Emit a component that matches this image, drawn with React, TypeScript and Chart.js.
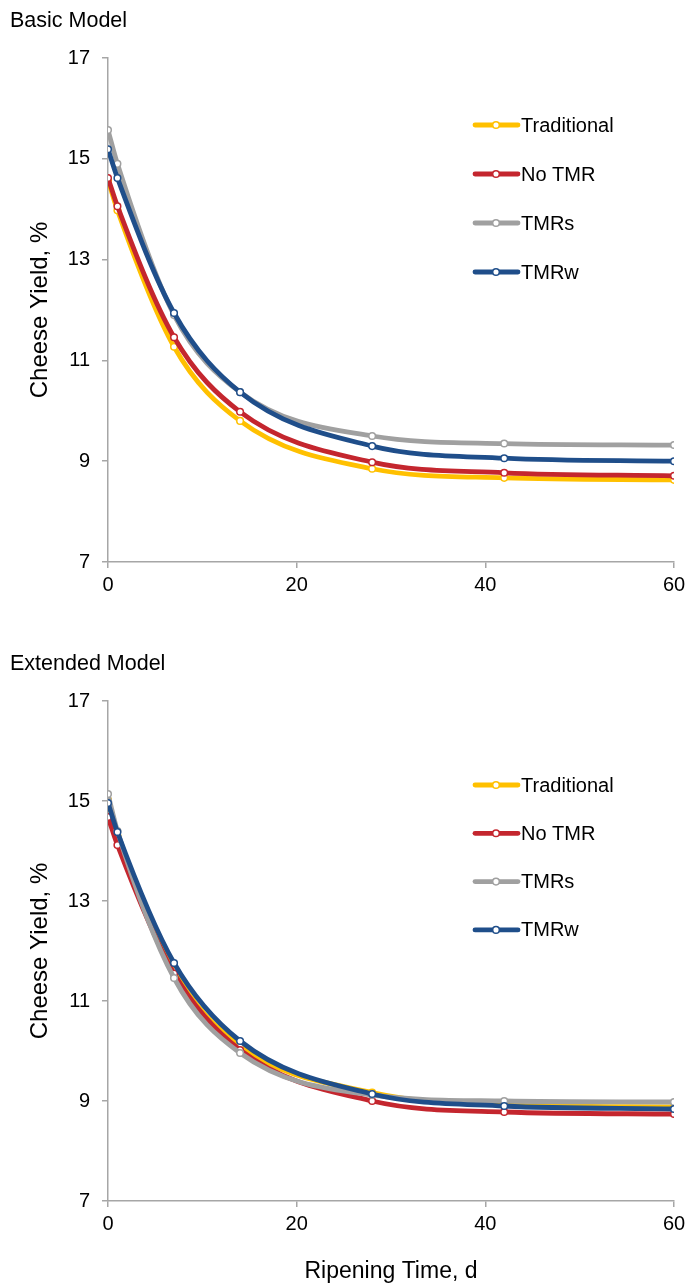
import React, { useEffect, useRef } from "react";
import { Chart, registerables } from "chart.js";

Chart.register(...registerables);

const days = [0, 1, 7, 14, 28, 42, 60];
const seriesNames = ["Traditional", "No TMR", "TMRs", "TMRw"];
const seriesColors = ["#FFC000", "#C4262E", "#A0A0A0", "#1F4E8A"];

const basicTraditional = [14.58, 13.98, 11.27, 9.8, 8.85, 8.67, 8.63];
const basicNoTMR = [14.62, 14.06, 11.46, 9.98, 8.98, 8.77, 8.71];
const basicTMRs = [15.57, 14.9, 11.9, 10.37, 9.5, 9.35, 9.32];
const basicTMRw = [15.19, 14.62, 11.94, 10.37, 9.3, 9.06, 9.0];

const extTraditional = [15.02, 14.3, 11.6, 10.1, 9.17, 8.92, 8.88];
const extNoTMR = [14.68, 14.12, 11.55, 10.02, 9.0, 8.78, 8.74];
const extTMRs = [15.14, 14.4, 11.46, 9.96, 9.12, 9.0, 8.98];
const extTMRw = [14.96, 14.38, 11.76, 10.2, 9.14, 8.9, 8.84];

const yTicks = [7, 9, 11, 13, 15, 17];
const xTicks = [0, 20, 40, 60];

const FONT = "'Liberation Sans', Arial, sans-serif";
const AXIS_GRAY = "#A6A6A6";

type PanelProps = {
  series: number[][];
  height: number;
  xAxisHeight: number;
  topPad: number;
  showXTitle: boolean;
  legendY: number;
  legendStep: number;
};

function Panel({ series, height, xAxisHeight, topPad, showXTitle, legendY, legendStep }: PanelProps) {
  const ref = useRef<HTMLCanvasElement | null>(null);
  useEffect(() => {
    if (!ref.current) return;
    const legendPlugin = {
      id: "inlineLegend",
      afterDraw(chart: any) {
        const ctx = chart.ctx;
        ctx.save();
        seriesNames.forEach((name, i) => {
          const y = legendY + i * legendStep;
          const x0 = 475;
          ctx.strokeStyle = seriesColors[i];
          ctx.lineWidth = 4.8;
          ctx.lineCap = "round";
          ctx.beginPath();
          ctx.moveTo(x0, y);
          ctx.lineTo(x0 + 43, y);
          ctx.stroke();
          ctx.beginPath();
          ctx.arc(x0 + 21, y, 3.3, 0, Math.PI * 2);
          ctx.fillStyle = "#fff";
          ctx.fill();
          ctx.lineWidth = 1.5;
          ctx.stroke();
          ctx.fillStyle = "#000";
          ctx.font = `20px ${FONT}`;
          ctx.textBaseline = "middle";
          ctx.textAlign = "left";
          ctx.fillText(name, x0 + 46, y + 1);
        });
        ctx.restore();
      },
    };
    const orders = [3, 2, 1, 0];
    const chart = new Chart(ref.current, {
      type: "line",
      data: {
        datasets: series.map((vals, i) => ({
          label: seriesNames[i],
          data: days.map((d, j) => ({ x: d, y: vals[j] })),
          borderColor: seriesColors[i],
          backgroundColor: "#fff",
          borderWidth: 4.8,
          pointRadius: 3.3,
          pointBorderWidth: 1.5,
          pointBackgroundColor: "#fff",
          pointBorderColor: seriesColors[i],
          cubicInterpolationMode: "monotone" as const,
          order: orders[i],
          fill: false,
        })),
      },
      options: {
        animation: false,
        responsive: false,
        maintainAspectRatio: false,
        layout: { padding: { left: 0, right: 0, top: topPad, bottom: 0 } },
        plugins: { legend: { display: false }, tooltip: { enabled: false }, title: { display: false } },
        scales: {
          x: {
            type: "linear",
            min: 0,
            max: 60,
            afterBuildTicks: (scale: any) => {
              scale.ticks = xTicks.map((v) => ({ value: v }));
            },
            afterFit: (scale: any) => {
              scale.height = xAxisHeight;
              scale.paddingRight = 11;
            },
            grid: { display: true, drawOnChartArea: false, drawTicks: true, tickLength: 6, color: AXIS_GRAY, lineWidth: 1.5 },
            border: { display: true, color: AXIS_GRAY, width: 1.5 },
            ticks: { color: "#000", font: { family: FONT, size: 20 }, padding: 5, maxRotation: 0 },
            title: {
              display: showXTitle,
              text: "Ripening Time, d",
              color: "#000",
              font: { family: FONT, size: 23 },
              padding: { top: 0, bottom: 2 },
            },
          },
          y: {
            type: "linear",
            min: 7,
            max: 17,
            afterBuildTicks: (scale: any) => {
              scale.ticks = yTicks.map((v) => ({ value: v }));
            },
            afterFit: (scale: any) => {
              scale.width = 108;
            },
            grid: { display: true, drawOnChartArea: false, drawTicks: true, tickLength: 6, color: AXIS_GRAY, lineWidth: 1.5 },
            border: { display: true, color: AXIS_GRAY, width: 1.5 },
            ticks: { color: "#000", font: { family: FONT, size: 20 }, padding: 12 },
            title: {
              display: true,
              text: "Cheese Yield, %",
              color: "#000",
              font: { family: FONT, size: 24 },
              padding: { top: 26, bottom: 0 },
            },
          },
        },
      },
      plugins: [legendPlugin],
    });
    return () => chart.destroy();
  }, []);
  return <canvas ref={ref} width={685} height={height} style={{ display: "block", width: 685, height }} />;
}

export default function App() {
  useEffect(() => {
    document.body.style.margin = "0";
  }, []);
  const titleStyle: React.CSSProperties = {
    position: "absolute",
    left: 10,
    fontFamily: FONT,
    fontSize: 21.5,
    lineHeight: "24px",
    color: "#000",
    whiteSpace: "nowrap",
  };
  return (
    <div style={{ position: "relative", width: 685, height: 1287, background: "#fff", overflow: "hidden" }}>
      <div style={{ position: "absolute", left: 0, top: 0 }}>
        <Panel
          series={[basicTraditional, basicNoTMR, basicTMRs, basicTMRw]}
          height={620}
          xAxisHeight={58}
          topPad={58}
          showXTitle={false}
          legendY={125}
          legendStep={49}
        />
      </div>
      <div style={{ position: "absolute", left: 0, top: 640 }}>
        <Panel
          series={[extTraditional, extNoTMR, extTMRs, extTMRw]}
          height={647}
          xAxisHeight={86}
          topPad={61}
          showXTitle={true}
          legendY={145}
          legendStep={48.3}
        />
      </div>
      <div style={{ ...titleStyle, top: 8 }}>Basic Model</div>
      <div style={{ ...titleStyle, top: 651 }}>Extended Model</div>
    </div>
  );
}
